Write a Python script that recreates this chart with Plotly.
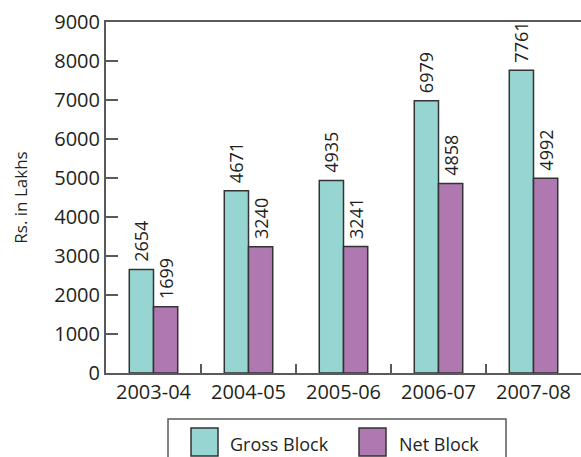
import plotly.graph_objects as go

# Fixed assets by year (Rs. in Lakhs)
years = ["2003-04", "2004-05", "2005-06", "2006-07", "2007-08"]
gross_block = [2654, 4671, 4935, 6979, 7761]
net_block = [1699, 3240, 3241, 4858, 4992]

series_names = ["Gross Block", "Net Block"]
series_colors = ["#96D5D1", "#B078B1"]

W, H = 581, 457
L, R, T, B = 106, 0, 22, 84
FONT = "Open Sans"
TEXT = "#231F20"
AXIS = "#5A5A5A"

fig = go.Figure()
for name, vals, col in zip(series_names, [gross_block, net_block], series_colors):
    fig.add_trace(go.Bar(
        name=name, x=years, y=vals,
        marker=dict(color=col, line=dict(color="#333333", width=1.5)),
        # leading non-breaking space keeps the rotated value a little clear of the bar top
        text=["\u00a0" + str(v) for v in vals], textposition="outside", textangle=-90,
        constraintext="none",
        textfont=dict(family=FONT, size=18, color=TEXT),
        cliponaxis=False,
    ))

fig.update_layout(
    width=W, height=H,
    margin=dict(l=L, r=R, t=T, b=B),
    paper_bgcolor="white", plot_bgcolor="white",
    barmode="group", bargap=0.49, bargroupgap=0,
    showlegend=False,
    font=dict(family=FONT, color=TEXT),
)
fig.update_xaxes(
    type="category", range=[-0.5, 4.5],
    showline=True, linecolor=AXIS, linewidth=2, mirror=True,
    ticks="inside", tickson="boundaries", ticklen=9, tickcolor=AXIS, tickwidth=1.5,
    tickfont=dict(family=FONT, size=20, color=TEXT),
    showgrid=False,
)
fig.update_yaxes(
    range=[0, 9000], dtick=1000,
    showline=True, linecolor=AXIS, linewidth=2,
    ticks="inside", ticklen=12, tickcolor=AXIS, tickwidth=1.5,
    tickfont=dict(family=FONT, size=20, color=TEXT),
    showgrid=False, zeroline=False,
    title=dict(text="Rs. in Lakhs", font=dict(family=FONT, size=17, color=TEXT), standoff=22),
)

# Legend box drawn below the plot area
def px_x(p):
    return (p - L) / (W - L - R)

def px_y(p):
    return (H - B - p) / (H - T - B)

fig.add_shape(type="rect", xref="paper", yref="paper",
              x0=px_x(168), x1=px_x(506), y0=px_y(419), y1=px_y(475),
              line=dict(color=AXIS, width=1.5), fillcolor="white", layer="above")
swatch_x = [191, 359]
label_x = [228, 397]
for name, col, sx, lx in zip(series_names, series_colors, swatch_x, label_x):
    fig.add_shape(type="rect", xref="paper", yref="paper",
                  x0=px_x(sx), x1=px_x(sx + 27), y0=px_y(428), y1=px_y(456),
                  line=dict(color="#333333", width=1.5), fillcolor=col, layer="above")
    fig.add_annotation(xref="paper", yref="paper", x=px_x(lx), y=px_y(444),
                       text=name, showarrow=False, xanchor="left", yanchor="middle",
                       font=dict(family=FONT, size=18, color=TEXT))

fig.write_html("out.html")
